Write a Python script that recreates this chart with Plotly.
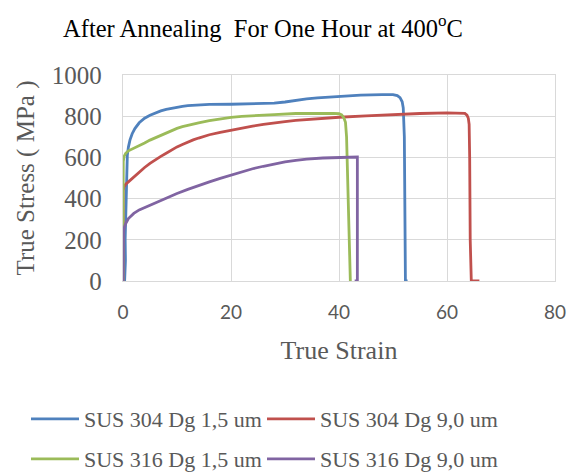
import plotly.graph_objects as go

# ---- data (strain %, true stress MPa) ----
names = ["SUS 304 Dg 1,5 um", "SUS 304 Dg 9,0 um", "SUS 316 Dg 1,5 um", "SUS 316 Dg 9,0 um"]
colors = ["#4F81BD", "#C0504D", "#9BBB59", "#8064A2"]

blue_strain = [0.3, 0.45, 0.4, 0.5, 0.6, 0.7, 0.8, 1.0, 1.3, 1.7, 2.2, 3, 4, 5, 6, 7, 8, 9, 10, 11, 12, 14, 16,
               20, 25, 28, 30, 32, 34, 36, 38, 40, 44, 48, 50, 50.8, 51.3, 51.7, 51.9, 52.1, 52.2, 52.3, 52.7]
blue_stress = [0, 100, 200, 300, 450, 560, 610, 650, 685, 715, 740, 768, 790, 805, 817, 826, 833, 839, 844, 848, 851, 855, 857,
               858, 860, 863, 869, 877, 884, 889, 893, 897, 902, 905, 905, 900, 890, 870, 840, 700, 300, 0, 0]

red_strain = [0, 0, 0.05, 0.2, 0.5, 1, 1.5, 2, 3, 4, 5, 6, 7, 8, 9, 10, 11, 12, 13, 14, 16, 18, 20, 22, 24, 26, 28, 30,
              32, 36, 40, 45, 50, 55, 60, 62.5, 63.3, 63.7, 63.95, 64.1, 64.2, 64.3, 64.5, 66]
red_stress = [0, 200, 440, 457, 470, 481, 493, 505, 530, 551, 571, 589, 605, 620, 636, 651, 663, 675, 685, 694, 710, 722, 733,
              743, 752, 760, 768, 774, 780, 788, 795, 802, 808, 813, 816, 817, 814, 805, 790, 760, 600, 200, 0, 0]

green_strain = [0, 0, 0.05, 0.2, 0.5, 1, 2, 3, 4, 5, 6, 7, 8, 9, 10, 11, 12, 13, 14, 16, 18, 20, 22, 24, 28, 32, 36,
                39, 40, 40.5, 40.9, 41.2, 41.4, 41.6, 41.9, 42.1]
green_stress = [0, 300, 580, 605, 620, 632, 644, 657, 670, 684, 696, 708, 720, 731, 741, 749, 756, 762, 768, 778, 787,
                794, 799, 803, 808, 813, 815, 814, 812, 806, 792, 770, 700, 500, 200, 0]

purple_strain = [0, 0, 0.1, 0.3, 0.5, 1, 1.5, 2, 3, 4, 5, 6, 7, 8, 9, 10, 12, 14, 16, 18, 20, 22, 24, 26, 28, 30, 32,
                 34, 37, 40, 43.4, 43.4, 43.4, 42.9]
purple_stress = [0, 150, 240, 265, 279, 303, 317, 328, 345, 357, 368, 381, 393, 404, 415, 425, 445, 464, 481, 498, 514,
                 530, 545, 557, 568, 578, 586, 592, 597, 600, 602, 300, 0, 0]

x_ticks = [0, 20, 40, 60, 80]
y_ticks = [0, 200, 400, 600, 800, 1000]

series = [(blue_strain, blue_stress), (red_strain, red_stress), (green_strain, green_stress), (purple_strain, purple_stress)]
legend_ids = ["legend", "legend2", "legend3", "legend4"]

fig = go.Figure()
for (xs, ys), name, col, lg in zip(series, names, colors, legend_ids):
    fig.add_trace(go.Scatter(x=xs, y=ys, mode="lines", name=name,
                             line=dict(color=col, width=2.8), legend=lg))

serif = "Liberation Serif, Times New Roman, serif"
sans = "Lato, Liberation Sans, Arial, sans-serif"
gray = "#595959"
grid = "#d9d9d9"

# plot area in pixels: x 123..555, y 75..281
PL, PR, PT, PB = 123, 555, 75, 281


def leg(px_left, px_y):
    return dict(orientation="h", xanchor="left", yanchor="middle",
                x=(px_left - PL) / (PR - PL), y=(PB - px_y) / (PB - PT),
                font=dict(family=serif, size=22, color=gray),
                bgcolor="rgba(0,0,0,0)", itemwidth=48)


fig.update_layout(
    width=568, height=472,
    margin=dict(l=PL, r=568 - PR, t=PT, b=472 - PB, autoexpand=False),
    paper_bgcolor="white", plot_bgcolor="white",
    title=dict(text="After Annealing  For One Hour at 400<sup>o</sup>C",
               font=dict(family=serif, size=24.5, color="black"),
               x=263 / 568, xanchor="center", xref="container",
               y=1 - 28 / 472, yanchor="middle", yref="container"),
    xaxis=dict(range=[0, 80], tickvals=x_ticks, ticktext=[str(v) for v in x_ticks],
               showgrid=True, gridcolor=grid, gridwidth=1.3, zeroline=False,
               showline=True, linecolor=grid, linewidth=1.3, mirror=True,
               ticks="outside", ticklen=14, tickcolor="rgba(0,0,0,0)", automargin=False,
               tickfont=dict(family=sans, size=19, color=gray),
               title=dict(text="True Strain", font=dict(family=serif, size=26, color=gray), standoff=18)),
    yaxis=dict(range=[0, 1000], tickvals=y_ticks, ticktext=[str(v) for v in y_ticks],
               showgrid=True, gridcolor=grid, gridwidth=1.3, zeroline=False,
               showline=True, linecolor=grid, linewidth=1.3, mirror=True,
               ticks="outside", ticklen=15, tickcolor="rgba(0,0,0,0)", automargin=False,
               tickfont=dict(family=serif, size=25, color=gray),
               title=dict(text="True Stress ( MPa )", font=dict(family=serif, size=25, color=gray), standoff=10)),
    legend=leg(26, 419),
    legend2=leg(262, 419),
    legend3=leg(26, 459),
    legend4=leg(262, 459),
    showlegend=True,
)

fig.write_html("out.html", config={"displayModeBar": False},
               post_script="document.body.style.margin='0';")
